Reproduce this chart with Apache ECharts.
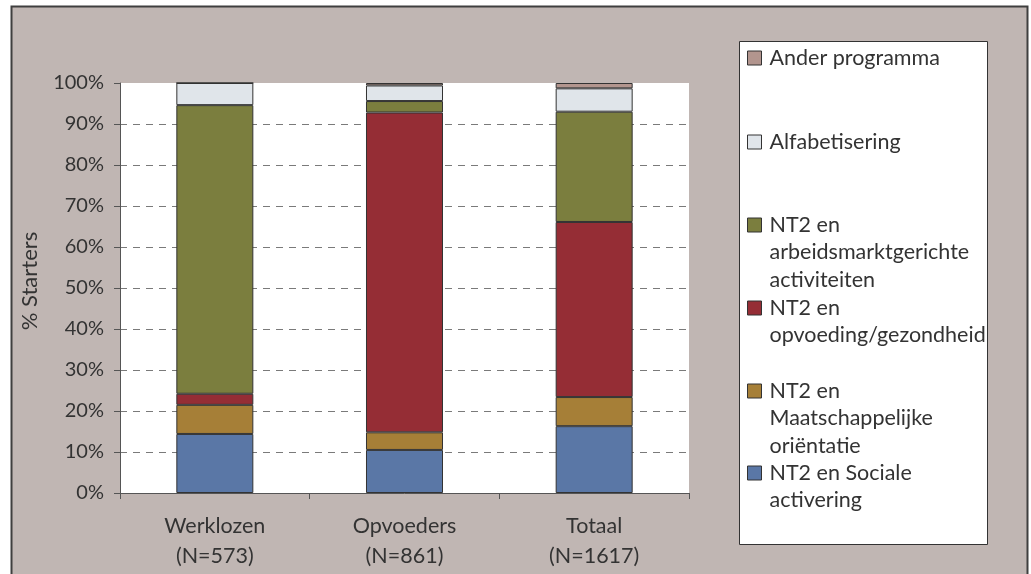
<!DOCTYPE html>
<html>
<head>
<meta charset="utf-8">
<script src="https://cdn.jsdelivr.net/npm/echarts@6/dist/echarts.min.js"></script>
<style>
html,body{margin:0;padding:0;background:#fff;}
#c{width:1031px;height:574px;}
</style>
</head>
<body>
<div id="c"></div>
<script>
// ---- data ----
const categories = ['Werklozen\n(N=573)', 'Opvoeders\n(N=861)', 'Totaal\n(N=1617)'];
const seriesNames = [
  'NT2 en Sociale activering',
  'NT2 en Maatschappelijke oriëntatie',
  'NT2 en opvoeding/gezondheid',
  'NT2 en arbeidsmarktgerichte activiteiten',
  'Alfabetisering',
  'Ander programma'
];
const legendLabels = [
  'NT2 en Sociale\nactivering',
  'NT2 en\nMaatschappelijke\noriëntatie',
  'NT2 en\nopvoeding/gezondheid',
  'NT2 en\narbeidsmarktgerichte\nactiviteiten',
  'Alfabetisering',
  'Ander programma'
];
const sociale      = [14.4, 10.5, 16.3];
const maatsch      = [7.1, 4.3, 7.1];
const opvoeding    = [2.7, 78.0, 42.7];
const arbeid       = [70.4, 2.8, 26.9];
const alfabet      = [5.4, 3.8, 5.7];
const ander        = [0.0, 0.6, 1.3];
const seriesValues = [sociale, maatsch, opvoeding, arbeid, alfabet, ander];
const yTicks = [0, 10, 20, 30, 40, 50, 60, 70, 80, 90, 100];

// ---- style ----
const colors = ['#5a77a6', '#a67f37', '#952d35', '#7b7e3e', '#e0e5ea', '#b2958e'];
const FONT = 'Lato';
const TXT = '#333333';
const LH = 27.5;
// legend icon centre y per series (series order)
const legendIconY = [473, 391, 308, 225, 142, 58];

const chart = echarts.init(document.getElementById('c'), null, {renderer: 'canvas'});

const series = seriesNames.map((n, i) => ({
  name: n,
  type: 'bar',
  stack: 'total',
  barWidth: '40.6%',
  data: seriesValues[i],
  itemStyle: {color: colors[i], borderColor: '#333', borderWidth: 1},
  emphasis: {disabled: true}
}));

const legends = seriesNames.map((n, i) => {
  const nLines = legendLabels[i].split('\n').length;
  const total = 2 * nLines - 1;
  return {
    data: [n],
    orient: 'vertical',
    left: 747,
    top: legendIconY[i] - total * LH / 2,
    padding: 0,
    itemWidth: 14,
    itemHeight: 14,
    icon: 'rect',
    selectedMode: false,
    itemStyle: {borderColor: '#333', borderWidth: 1},
    formatter: () => '\n'.repeat(nLines - 1) + legendLabels[i],
    textStyle: {fontFamily: FONT, fontSize: 21.5, color: TXT, lineHeight: LH, padding: [0, 0, 0, 3]}
  };
});

const splitColors = yTicks.map((t, i) => (i === 0 || i === yTicks.length - 1) ? 'rgba(0,0,0,0)' : '#7a7a7a');

chart.setOption({
  backgroundColor: '#ffffff',
  animation: false,
  color: colors,
  graphic: [
    {type: 'rect', z: -10, shape: {x: 11.5, y: 6.5, width: 1016, height: 600},
     style: {fill: '#c0b6b3', stroke: '#3f3f3f', lineWidth: 2}},
    {type: 'rect', z: -5, shape: {x: 739.5, y: 41.5, width: 248, height: 503},
     style: {fill: '#ffffff', stroke: '#333', lineWidth: 1}}
  ],
  legend: legends,
  grid: {left: 120, top: 83, width: 569, height: 410, show: true, backgroundColor: '#ffffff', borderWidth: 0, containLabel: false},
  xAxis: {
    type: 'category',
    data: categories,
    axisLine: {show: true, lineStyle: {color: '#555', width: 1}},
    axisTick: {show: true, length: 6, lineStyle: {color: '#555'}},
    axisLabel: {fontFamily: FONT, fontSize: 21.5, color: TXT, lineHeight: 30, margin: 18}
  },
  yAxis: {
    type: 'value',
    min: 0, max: 100, interval: 10,
    name: '% Starters',
    nameLocation: 'middle',
    nameGap: 79,
    nameTextStyle: {fontFamily: FONT, fontSize: 22, color: TXT, padding: [0, 0, 0, 14]},
    axisLine: {show: true, lineStyle: {color: '#555', width: 1}},
    axisTick: {show: true, length: 6, lineStyle: {color: '#555'}},
    axisLabel: {fontFamily: FONT, fontSize: 20, color: TXT, margin: 16, formatter: v => v + '%'},
    splitLine: {show: true, lineStyle: {type: [7, 6], color: splitColors, width: 1}}
  },
  series: series
});
</script>
</body>
</html>
